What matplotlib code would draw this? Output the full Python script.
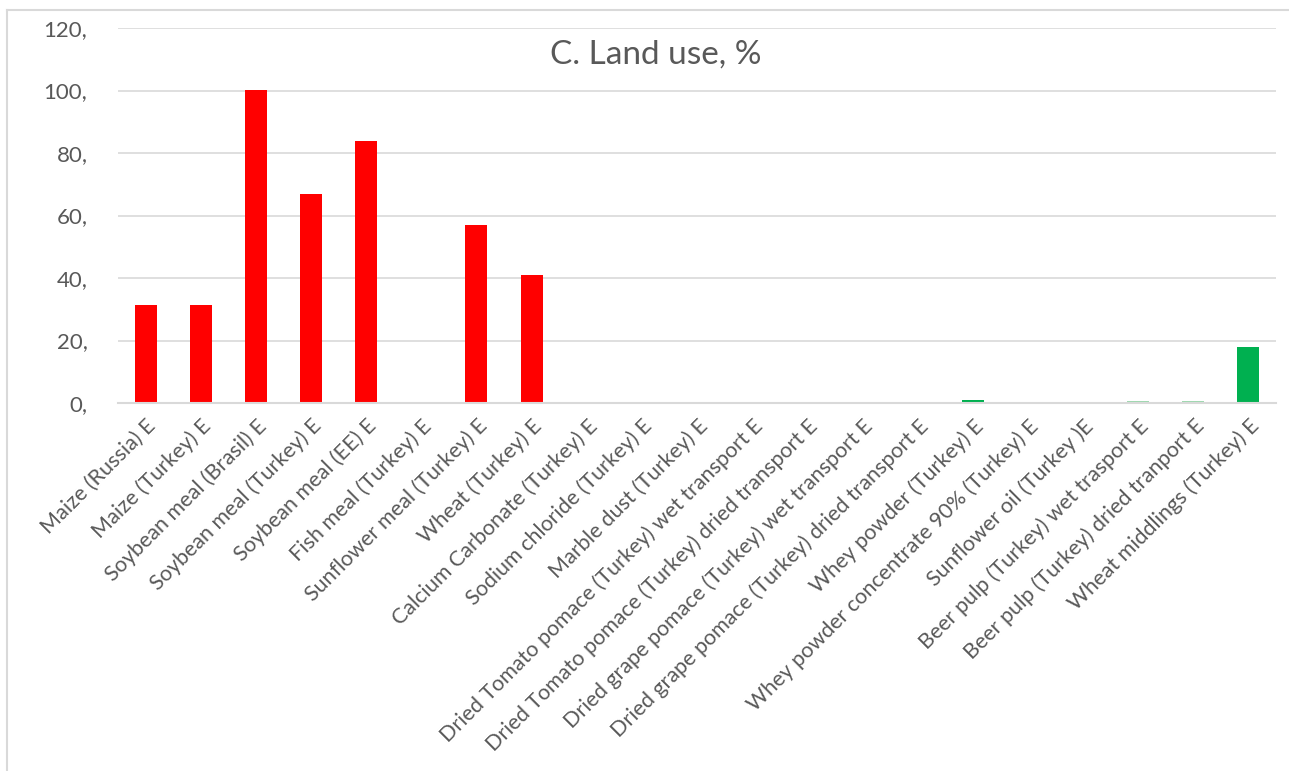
import matplotlib
matplotlib.use("Agg")
import matplotlib.pyplot as plt
from matplotlib.lines import Line2D

categories = [
    "Maize (Russia) E", "Maize (Turkey) E", "Soybean meal (Brasil) E",
    "Soybean meal (Turkey) E", "Soybean meal (EE) E", "Fish meal (Turkey) E",
    "Sunflower meal (Turkey) E", "Wheat (Turkey) E",
    "Calcium Carbonate (Turkey) E", "Sodium chloride (Turkey) E",
    "Marble dust (Turkey) E",
    "Dried Tomato pomace (Turkey) wet transport E",
    "Dried Tomato pomace (Turkey) dried transport E",
    "Dried grape pomace (Turkey) wet transport E",
    "Dried grape pomace (Turkey) dried transport E",
    "Whey powder (Turkey) E", "Whey powder concentrate 90% (Turkey) E",
    "Sunflower oil (Turkey )E", "Beer pulp (Turkey) wet trasport E",
    "Beer pulp (Turkey) dried tranport E", "Wheat middlings (Turkey) E",
]
values = [31.3, 31.3, 100.2, 66.8, 83.8, 0.0, 56.9, 40.9,
          0.0, 0.0, 0.0, 0.0, 0.0, 0.0, 0.0,
          1.0, 0.4, 0.4, 0.5, 0.5, 17.9]
colors = ["#ff0000"] * 15 + ["#00b050", "#c2e8cd", "#c2e8cd", "#9fd8b0", "#9fd8b0", "#00b050"]
yticks = [0, 20, 40, 60, 80, 100, 120]
ytick_labels = ["0,", "20,", "40,", "60,", "80,", "100,", "120,"]

plt.rcParams['font.family'] = ['Lato', 'DejaVu Sans']
fig = plt.figure(figsize=(12.89, 7.71), dpi=100)
ax = fig.add_axes([118/1289, 1 - 403/771, (1276 - 118)/1289, (403 - 28)/771])

x = list(range(len(categories)))
ax.bar(x, values, width=0.4, color=colors, zorder=3)
ax.set_xlim(-0.5, len(categories) - 0.5)
ax.set_ylim(0, 120)
ax.set_yticks(yticks)
ax.set_yticklabels(ytick_labels, fontsize=16, color="#595959")
ax.set_xticks(x)
ax.set_xticklabels(categories, rotation=45, ha="right", rotation_mode="anchor",
                   fontsize=15.5, color="#595959")
ax.tick_params(axis="both", length=0)
ax.tick_params(axis="y", pad=22)
ax.tick_params(axis="x", pad=9)
ax.grid(axis="y", color="#d9d9d9", linewidth=1.2, zorder=0)
for s in ["top", "right", "left"]:
    ax.spines[s].set_visible(False)
ax.spines["bottom"].set_color("#d9d9d9")
ax.spines["bottom"].set_linewidth(1.5)
ax.spines["bottom"].set_zorder(4)

fig.text(656/1289, 1 - 55/771, "C. Land use, %", ha="center", va="center",
         fontsize=24, color="#595959")

# chart-area border (top and left)
fig.add_artist(Line2D([7/1289, 1.0], [1 - 10/771, 1 - 10/771], transform=fig.transFigure,
                      color="#d9d9d9", linewidth=1.5))
fig.add_artist(Line2D([7/1289, 7/1289], [0.0, 1 - 10/771], transform=fig.transFigure,
                      color="#d9d9d9", linewidth=1.5))

fig.savefig("out.png", dpi=100)
